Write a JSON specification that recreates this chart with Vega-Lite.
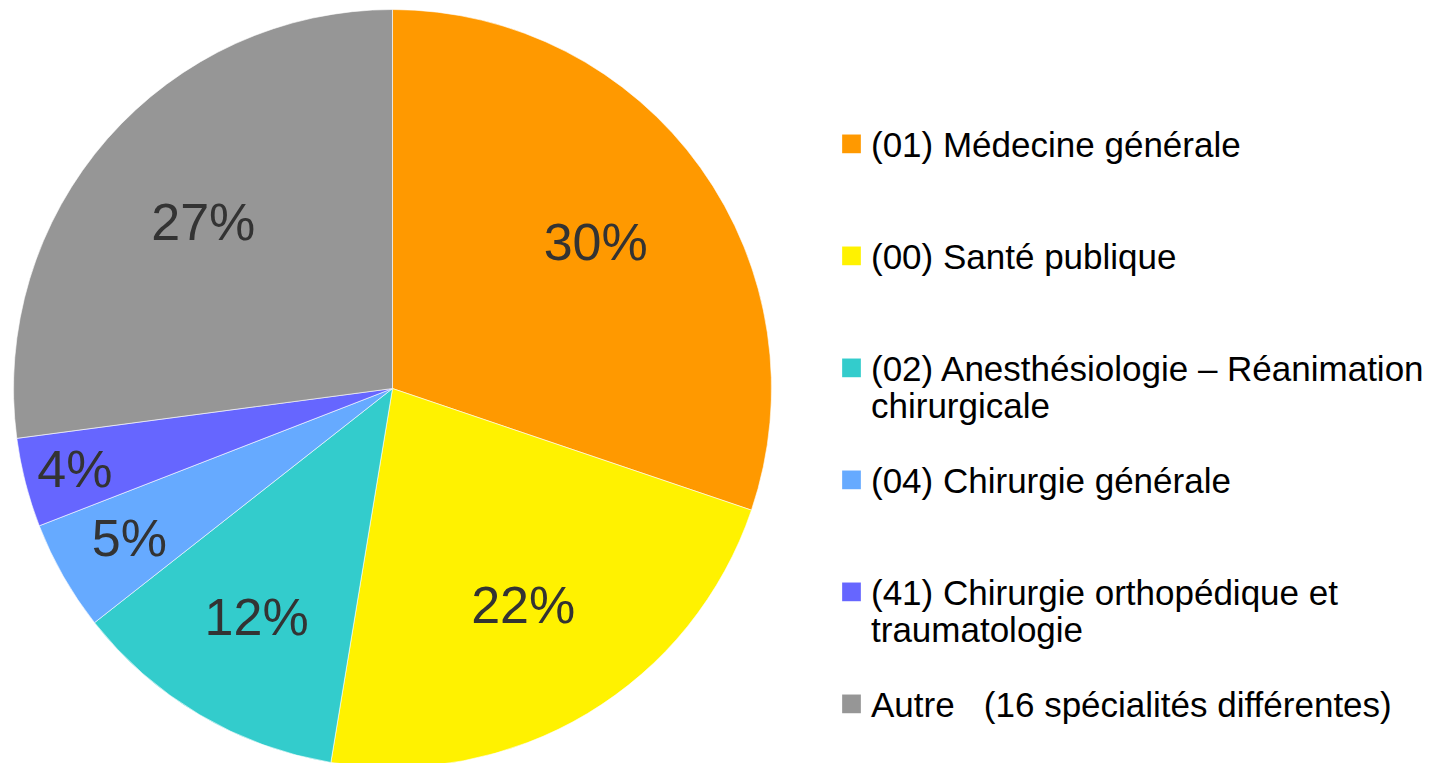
{
  "$schema": "https://vega.github.io/schema/vega-lite/v6.json",
  "width": 785,
  "height": 777,
  "padding": 0,
  "autosize": {"type": "pad"},
  "background": "#ffffff",
  "config": {"view": {"stroke": null}},
  "data": {
    "values": [
      {"idx": 1, "cat": "(01) Médecine générale", "value": 30.2, "pct": "30%"},
      {"idx": 2, "cat": "(00) Santé publique", "value": 22.4, "pct": "22%"},
      {"idx": 3, "cat": "(02) Anesthésiologie – Réanimation|chirurgicale", "value": 11.8, "pct": "12%"},
      {"idx": 4, "cat": "(04) Chirurgie générale", "value": 4.7, "pct": "5%"},
      {"idx": 5, "cat": "(41) Chirurgie orthopédique et|traumatologie", "value": 3.8, "pct": "4%"},
      {"idx": 6, "cat": "Autre\u00a0\u00a0 (16 spécialités différentes)", "value": 27.1, "pct": "27%"}
    ]
  },
  "encoding": {
    "theta": {"field": "value", "type": "quantitative", "stack": true},
    "order": {"field": "idx", "type": "quantitative"},
    "color": {
      "field": "cat",
      "type": "nominal",
      "scale": {
        "domain": [
          "(01) Médecine générale",
          "(00) Santé publique",
          "(02) Anesthésiologie – Réanimation|chirurgicale",
          "(04) Chirurgie générale",
          "(41) Chirurgie orthopédique et|traumatologie",
          "Autre\u00a0\u00a0 (16 spécialités différentes)"
        ],
        "range": ["#FF9900", "#FFF200", "#33CCCC", "#66AAFF", "#6666FF", "#969696"]
      },
      "legend": {
        "title": null,
        "orient": "none",
        "direction": "vertical",
        "legendX": 834,
        "legendY": 139,
        "padding": 0,
        "symbolType": "M-1,-2.35H1V-0.35H-1Z",
        "symbolSize": 350,
        "symbolStrokeWidth": 0,
        "symbolOffset": 0,
        "labelFont": "Liberation Sans",
        "labelFontSize": 35,
        "labelColor": "#000000",
        "labelLimit": 700,
        "labelOffset": 2,
        "labelBaseline": "alphabetic",
        "rowPadding": 39,
        "labelExpr": "indexof(datum.label, '|') >= 0 ? split(datum.label, '|') : [datum.label, ' ']",
        "encode": {
          "labels": {"update": {"lineHeight": {"value": 36}}}
        }
      }
    }
  },
  "layer": [
    {
      "mark": {"type": "arc", "outerRadius": 379, "stroke": "#ffffff", "strokeWidth": 0.6}
    },
    {
      "mark": {"type": "text", "font": "Liberation Sans", "fontSize": 52, "baseline": "middle", "align": "center", "dy": 1},
      "encoding": {
        "text": {"field": "pct", "type": "nominal"},
        "color": {"value": "#333333"},
        "radius": {
          "field": "value",
          "type": "quantitative",
          "scale": {"type": "linear", "zero": false, "domain": [3.8, 4.7, 11.8, 22.4, 30.2], "range": [328, 303, 267, 254, 250]}
        }
      }
    }
  ]
}
